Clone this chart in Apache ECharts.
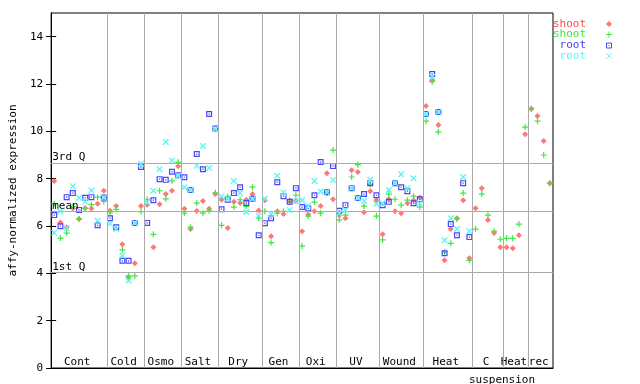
<!DOCTYPE html>
<html><head><meta charset="utf-8">
<script src="https://cdn.jsdelivr.net/npm/echarts@6/dist/echarts.min.js"></script>
<style>html,body{margin:0;padding:0;background:#fff}#c{width:640px;height:384px}</style>
</head><body><div id="c"></div>
<script>
// ---- data ----
const categories = ['Cont','Cold','Osmo','Salt','Dry','Gen','Oxi','UV','Wound','Heat','C','Heat','rec'];
const categoryBounds = [0,9,15,21,27,34,40,46,53,60,68,73,77,81];
const yTicks = [0,2,4,6,8,10,12,14];
const refNames = ['3rd Q','mean','1st Q'];
const refValues = [8.66,6.61,4.05];
const seriesNames = ['shoot','shoot','root','root'];

const shootRep1 = [7.90,6.15,5.94,6.75,6.30,6.75,6.74,6.94,7.49,
  6.64,6.85,5.23,3.85,4.43,6.85,
  6.90,5.10,6.92,7.35,7.49,8.52,
  6.73,5.87,6.63,7.06,6.73,7.35,
  7.11,5.92,7.02,6.97,7.11,7.35,6.66,
  7.09,5.57,6.62,6.51,7.02,7.06,
  5.78,6.49,6.62,6.84,8.23,7.13,
  6.45,6.33,8.36,8.28,6.58,7.47,7.09,
  5.65,7.13,6.62,6.54,6.96,7.09,7.20,
  11.07,12.15,10.27,4.55,5.87,6.33,7.09,4.64,
  6.75,7.60,6.25,5.70,5.10,
  5.10,5.06,5.61,9.88,
  10.94,10.65,9.59,7.81];
const shootRep2 = [6.94,5.49,5.70,6.82,6.30,6.75,6.90,7.22,7.04,
  6.55,6.70,4.99,3.89,3.89,6.61,
  7.13,5.65,7.49,7.15,7.91,8.69,
  6.54,5.95,6.97,6.54,6.64,7.40,
  6.03,7.25,6.80,7.11,6.83,7.64,6.33,
  6.62,5.30,6.54,6.62,7.10,7.30,
  5.15,6.42,7.01,6.54,7.40,9.21,
  6.26,6.46,8.07,8.59,6.84,7.75,6.42,
  5.41,7.35,7.13,6.88,7.09,7.26,6.80,
  10.43,12.10,9.98,4.90,5.27,6.30,7.39,4.55,
  5.87,7.35,6.46,5.78,5.44,
  5.48,5.48,6.08,10.18,
  10.98,10.43,9.00,7.81];
const rootRep1 = [6.46,5.99,7.22,7.39,6.68,7.19,7.22,6.03,7.20,
  6.33,5.95,4.53,4.53,6.13,8.49,
  6.13,7.09,7.98,7.95,8.29,8.14,
  8.06,7.52,9.04,8.40,10.73,10.12,
  6.71,7.11,7.39,7.64,6.97,7.15,5.61,
  6.12,6.33,7.85,7.26,7.02,7.60,
  6.80,6.74,7.30,8.70,7.43,8.53,
  6.64,6.88,7.60,7.18,7.35,7.81,7.30,
  6.88,7.02,7.81,7.64,7.47,6.96,7.13,
  10.73,12.42,10.82,4.85,6.08,5.61,7.81,5.53,
  null,null,null,null,null,
  null,null,null,null,
  null,null,null,null];
const rootRep2 = [5.71,6.61,5.90,7.68,7.19,7.02,7.50,6.22,7.20,
  6.09,5.87,4.75,3.69,6.13,8.63,
  6.99,7.49,8.40,9.55,8.77,8.12,
  7.64,7.52,8.55,9.38,8.45,10.10,
  7.25,7.16,7.90,7.39,6.59,7.15,6.43,
  7.15,6.51,8.12,7.42,6.68,7.06,
  7.09,6.86,7.90,7.46,7.43,7.94,
  6.54,6.68,7.60,7.18,7.07,7.95,6.94,
  6.96,7.52,7.81,8.19,7.60,8.02,6.96,
  10.73,12.30,10.82,5.40,6.33,5.87,8.07,5.78,
  null,null,null,null,null,
  null,null,null,null,
  null,null,null,null];

// ---- styling ----
const FONT = 'DejaVu Sans Mono';
const colors = ['#ff4a4a','#3fe83f','#4646ff','#5ef5f5'];
const symbols = [
  'path://M2.5,0L5,2.5L2.5,5L0,2.5Z',
  'path://M2,0H3V2H5V3H3V5H2V3H0V2H2Z',
  'path://M0,0H5V5H0Z M1,1V4H4V1Z M2,2H3V3H2Z',
  'path://M0,0L0.8,0L5,4.2L5,5L4.2,5L0,0.8Z M4.2,0L5,0L5,0.8L0.8,5L0,5L0,4.2Z'
];
const symbolSizes = [6,6,6,6];
const allSeries = [shootRep1, shootRep2, rootRep1, rootRep2];

const centers = [];
for (let k = 0; k < categories.length; k++) centers.push((categoryBounds[k] + categoryBounds[k+1]) / 2 - 0.3);

const markData = [];
for (let k = 1; k < categoryBounds.length - 1; k++) {
  markData.push({xAxis: categoryBounds[k], label: {show: false}});
}
refNames.forEach((n, k) => markData.push({yAxis: refValues[k], name: n,
  label: {show: true, formatter: n, position: 'insideStartTop', distance: [1, 0],
          color: '#000', fontFamily: FONT, fontSize: 11}}));

const series = [{
  type: 'scatter', data: [], silent: true, z: 1,
  markLine: {silent: true, symbol: ['none','none'], animation: false,
    lineStyle: {color: '#aaaaaa', type: 'solid', width: 1},
    emphasis: {disabled: true}, data: markData}
}];
allSeries.forEach((arr, s) => {
  const pts = [];
  arr.forEach((v, i) => { if (v !== null) pts.push([i + 0.5, v]); });
  series.push({
    type: 'scatter', name: seriesNames[s], data: pts, z: 2 + s,
    symbol: symbols[s], symbolSize: symbolSizes[s],
    itemStyle: {color: colors[s], opacity: s === 0 ? 0.75 : 1},
    silent: true, emphasis: {disabled: true}
  });
});

// legend made of graphic elements
const legendGraphics = [];
const lx = 586, sx = 609, ly = [24, 34.5, 45.5, 56];
seriesNames.forEach((n, k) => {
  legendGraphics.push({type: 'text', x: lx, y: ly[k],
    style: {text: n, fill: colors[k], font: '11px ' + FONT, align: 'right', verticalAlign: 'middle'}});
});
legendGraphics.push({type: 'polygon', shape: {points: [[sx, ly[0]-3],[sx+3, ly[0]],[sx, ly[0]+3],[sx-3, ly[0]]]},
  style: {fill: colors[0], opacity: 0.75}});
legendGraphics.push({type: 'rect', shape: {x: sx-3, y: ly[1]-0.5, width: 6, height: 1}, style: {fill: colors[1]}});
legendGraphics.push({type: 'rect', shape: {x: sx-0.5, y: ly[1]-3, width: 1, height: 6}, style: {fill: colors[1]}});
legendGraphics.push({type: 'rect', shape: {x: sx-2.5, y: ly[2]-2.5, width: 5, height: 5}, style: {fill: 'none', stroke: colors[2], lineWidth: 1}});
legendGraphics.push({type: 'rect', shape: {x: sx-0.5, y: ly[2]-0.5, width: 1, height: 1}, style: {fill: colors[2]}});
legendGraphics.push({type: 'line', shape: {x1: sx-2.5, y1: ly[3]-2.5, x2: sx+2.5, y2: ly[3]+2.5}, style: {stroke: colors[3], lineWidth: 1}});
legendGraphics.push({type: 'line', shape: {x1: sx+2.5, y1: ly[3]-2.5, x2: sx-2.5, y2: ly[3]+2.5}, style: {stroke: colors[3], lineWidth: 1}});
legendGraphics.push({type: 'text', x: 502, y: 380,
  style: {text: 'suspension', fill: '#000', font: '11px ' + FONT, align: 'center', verticalAlign: 'middle'}});

const chart = echarts.init(document.getElementById('c'), null, {renderer: 'canvas'});
chart.setOption({
  animation: false,
  backgroundColor: '#fff',
  textStyle: {fontFamily: FONT},
  grid: {left: 44, right: 87, top: 13, bottom: 16, show: true, borderColor: '#000', borderWidth: 1, backgroundColor: 'transparent'},
  xAxis: [
    {type: 'value', min: 0, max: 81, axisLine: {show: true, lineStyle: {color: '#000'}},
     axisTick: {show: false}, axisLabel: {show: false}, splitLine: {show: false}},
    {type: 'value', min: 0, max: 81, position: 'bottom', axisLine: {show: false},
     axisTick: {show: false}, splitLine: {show: false},
     axisLabel: {inside: true, margin: 0, customValues: centers, color: '#000', fontFamily: FONT, fontSize: 11,
       formatter: v => { const k = centers.indexOf(v); return k >= 0 ? categories[k] : ''; }}}
  ],
  yAxis: [
    {type: 'value', min: 0, max: 15, position: 'left',
     name: 'affy-normalized expression', nameLocation: 'middle', nameGap: 28,
     nameTextStyle: {color: '#000', fontFamily: FONT, fontSize: 11},
     axisLine: {show: true, lineStyle: {color: '#000'}},
     axisTick: {show: true, length: 4, customValues: yTicks, lineStyle: {color: '#000'}},
     axisLabel: {customValues: yTicks, margin: 8, color: '#000', fontFamily: FONT, fontSize: 11},
     splitLine: {show: false}},
    {type: 'value', min: 0, max: 15, position: 'right',
     axisLine: {show: true, lineStyle: {color: '#000'}},
     axisTick: {show: true, inside: true, length: 5, customValues: yTicks, lineStyle: {color: '#000'}},
     axisLabel: {show: false}, splitLine: {show: false}},
    {type: 'value', min: 0, max: 15, position: 'left', offset: 0,
     axisLine: {show: false},
     axisTick: {show: true, inside: true, length: 5, customValues: yTicks, lineStyle: {color: '#000'}},
     axisLabel: {show: false}, splitLine: {show: false}}
  ],
  graphic: legendGraphics,
  series: series
});
</script>
</body></html>
